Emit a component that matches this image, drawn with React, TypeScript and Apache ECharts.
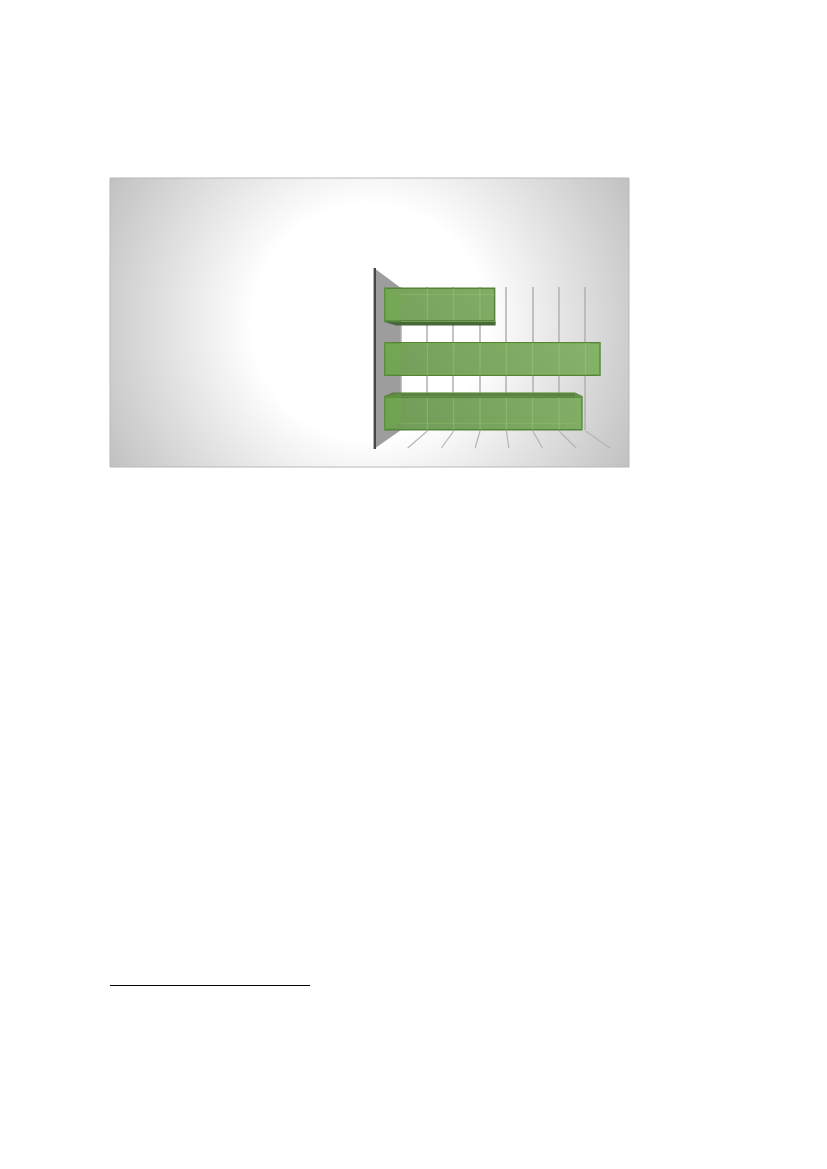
import React, { useEffect, useRef } from "react";
import * as echarts from "echarts";

const categories = ["A", "B", "C"];
const barValues = [3.7, 7.2, 6.6];
const backTicks = [1, 2, 3, 4, 5, 6, 7];

const BAR_H = 34;
const DEPTH_X = 0.875;
const DEPTH_XC = 65;
const DEPTH_Y = 0.9;
const DEPTH_YC = 35.9;

const bx = (x: number) => x * DEPTH_X + DEPTH_XC;
const by = (y: number) => y * DEPTH_Y + DEPTH_YC;

function corners(api: any) {
  const end = api.coord([api.value(0), api.value(1)]);
  const start = api.coord([0, api.value(1)]);
  const x0 = start[0];
  const x1 = end[0];
  const top = end[1] - BAR_H / 2;
  const bot = end[1] + BAR_H / 2;
  return { x0, x1, top, bot, bx0: bx(x0), bx1: bx(x1), btop: by(top), bbot: by(bot) };
}

function renderFaces(_: any, api: any) {
  const c = corners(api);
  const children: any[] = [];
  if (c.btop < c.top) {
    children.push({
      type: "polygon",
      shape: { points: [[c.x0, c.top], [c.bx0 - 8, c.btop], [c.bx1, c.btop], [c.x1, c.top]] },
      style: { fill: "#5b8143", stroke: "#56793f", lineWidth: 0.5 },
    });
  }
  if (c.bbot > c.bot) {
    children.push({
      type: "polygon",
      shape: { points: [[c.x0, c.bot], [c.x0 + 12, c.bbot], [c.x1, c.bbot], [c.x1, c.bot]] },
      style: { fill: "#47693a", stroke: "#47693a", lineWidth: 0.5 },
    });
  }
  return { type: "group", children };
}

function renderOverlay(_: any, api: any) {
  const c = corners(api);
  const right = Math.min(c.bx1, c.x1);
  const children: any[] = [
    {
      type: "polygon",
      shape: { points: [[c.x0, c.top], [c.bx0, c.btop], [c.bx0, Math.min(c.bbot, c.bot)], [c.x0, c.bot]] },
      style: { fill: "rgba(112,184,70,0.28)" },
    },
    {
      type: "line",
      shape: { x1: c.bx0, y1: c.btop, x2: right, y2: c.btop },
      style: { stroke: "rgba(150,210,110,0.4)", lineWidth: 1 },
    },
    {
      type: "line",
      shape: { x1: c.bx0, y1: Math.min(c.bbot, c.bot), x2: right, y2: Math.min(c.bbot, c.bot) },
      style: { stroke: "rgba(150,210,110,0.35)", lineWidth: 1 },
    },
  ];
  if (c.bx1 < c.x1) {
    children.push({
      type: "polygon",
      shape: { points: [[c.x1, c.top], [c.bx1, c.btop], [c.bx1, c.bbot], [c.x1, c.bot]] },
      style: { fill: "rgba(120,190,80,0.2)" },
    });
  }
  backTicks.forEach((k) => {
    const x = bx(api.coord([k, api.value(1)])[0]);
    if (x < c.x1) {
      children.push({
        type: "line",
        shape: { x1: x, y1: c.top + 1, x2: x, y2: c.bot - 1 },
        style: { stroke: "rgba(165,215,135,0.42)", lineWidth: 1 },
      });
    }
  });
  return { type: "group", children };
}

const floorLines = [1, 2, 3, 4, 5, 6, 7].map((k) => ({
  type: "line",
  z: 2,
  shape: { x1: 401 + 26.35 * k, y1: 431, x2: 374 + 33.7 * k, y2: 448 },
  style: { stroke: "#b4b4b4", lineWidth: 1.2 },
}));

export default function App() {
  const ref = useRef<HTMLDivElement>(null);
  useEffect(() => {
    if (!ref.current) return;
    const chart = echarts.init(ref.current, undefined, { renderer: "svg" });
    const customData = barValues.map((v, i) => [v, i]);
    chart.setOption({
      animation: false,
      backgroundColor: "#ffffff",
      grid: [
        { left: 384, top: 277.2, width: 240.8, height: 163.5, show: false },
        { left: 400.5, top: 287, width: 184.45, height: 143, show: false },
      ],
      xAxis: [
        { type: "value", gridIndex: 0, min: 0, max: 8, show: false },
        {
          type: "value",
          gridIndex: 1,
          min: 0,
          max: 7,
          interval: 1,
          z: 1,
          axisLine: { show: false },
          axisTick: { show: false },
          axisLabel: { show: false },
          splitLine: { show: true, lineStyle: { color: "#b0b0b0", width: 1.5 } },
        },
      ],
      yAxis: [
        { type: "category", gridIndex: 0, data: categories, inverse: true, show: false },
        { type: "category", gridIndex: 1, data: categories, inverse: true, show: false },
      ],
      graphic: {
        elements: [
          {
            type: "rect",
            z: -10,
            shape: { x: 110, y: 178, width: 519, height: 289 },
            style: {
              stroke: "#b8b8b8",
              lineWidth: 1,
              fill: new echarts.graphic.RadialGradient(369, 322, 300, [
                { offset: 0, color: "#ffffff" },
                { offset: 0.39, color: "#ffffff" },
                { offset: 1, color: "#c0c0c0" },
              ], true),
            },
          },
          {
            type: "polygon",
            z: -5,
            shape: { points: [[374, 268], [401, 288], [401, 430], [374, 449]] },
            style: { fill: "#9d9d9d" },
          },
          {
            type: "line",
            z: 2,
            shape: { x1: 374.8, y1: 268, x2: 374.8, y2: 449 },
            style: { stroke: "#474747", lineWidth: 2.4 },
          },
          ...floorLines,
          {
            type: "line",
            z: 2,
            shape: { x1: 110, y1: 985.5, x2: 310, y2: 985.5 },
            style: { stroke: "#000000", lineWidth: 1 },
          },
        ],
      },
      series: [
        {
          type: "custom",
          z: 3,
          xAxisIndex: 0,
          yAxisIndex: 0,
          clip: false,
          silent: true,
          encode: { x: 0, y: 1 },
          data: customData,
          renderItem: renderFaces,
        },
        {
          type: "bar",
          z: 4,
          xAxisIndex: 0,
          yAxisIndex: 0,
          barWidth: BAR_H,
          data: barValues,
          itemStyle: {
            borderColor: "#55833a",
            borderWidth: 1.5,
            color: new echarts.graphic.LinearGradient(384, 430, 600, 287, [
              { offset: 0, color: "#6f9b56" },
              { offset: 1, color: "#8ab56e" },
            ], true),
          },
        },
        {
          type: "custom",
          z: 5,
          xAxisIndex: 0,
          yAxisIndex: 0,
          clip: false,
          silent: true,
          encode: { x: 0, y: 1 },
          data: customData,
          renderItem: renderOverlay,
        },
      ],
    });
    return () => chart.dispose();
  }, []);
  return <div ref={ref} style={{ position: "absolute", left: 0, top: 0, width: 827, height: 1169 }} />;
}
